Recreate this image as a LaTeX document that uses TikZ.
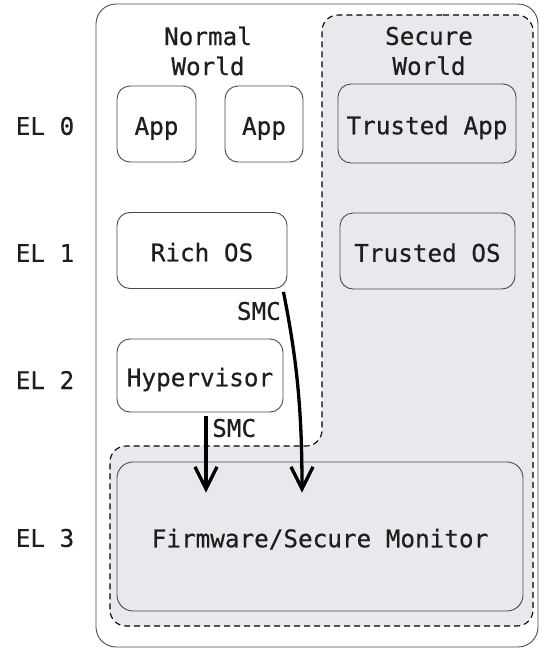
\documentclass[tikz,border=0pt]{standalone}
\usepackage{fontspec}
\setmainfont[FakeBold=0.5]{DejaVu Sans Mono}
\usetikzlibrary{arrows.meta}
\definecolor{secfill}{HTML}{E7E9EC}
\definecolor{edge}{HTML}{4A4A4A}
\definecolor{ink}{HTML}{1E1E1E}
\tikzset{
  unit/.style={x=1pt,y=-1pt},
  bigtext/.style={font=\fontsize{24.3}{30}\selectfont, text=ink},
  level/.style={bigtext},
  box/.style={draw=edge, line width=0.9pt, rounded corners=13pt, fill=white,
              bigtext, align=center, inner sep=0pt, text height=21.5pt, text depth=0pt},
  secbox/.style={box, fill=secfill},
  smc/.style={line width=3.3pt, -{Straight Barb[length=22pt,width=22pt,line width=3.3pt]}},
  worldlabel/.style={bigtext, align=center}
}
\begin{document}
\begin{tikzpicture}[unit]
\useasboundingbox (0,0) rectangle (540,649);
% outer frame
\draw[edge, line width=0.9pt, rounded corners=20pt, fill=white] (96,4) rectangle (538,647);
% secure world region (L-shaped, dashed)
\draw[black, line width=1.1pt, dash pattern=on 6pt off 4pt, fill=secfill, rounded corners=16pt]
  (427,15) -- (533,15) -- (533,626) -- (110,626) -- (110,446) -- (322,446) -- (322,15) -- cycle;
% world captions
\node[worldlabel] (nw) at (208,51) {Normal\\World};
\node[worldlabel] (sw) at (429,51) {Secure\\World};
% exception level captions
\node[level] (el0) at (45,126) {EL 0};
\node[level] (el1) at (45,253) {EL 1};
\node[level] (el2) at (45,380) {EL 2};
\node[level] (el3) at (45,538) {EL 3};
% normal world components
\node[box, minimum width=79pt, minimum height=76pt] (app1) at (156.5,124) {App};
\node[box, minimum width=78pt, minimum height=76pt] (app2) at (264,124) {App};
\node[box, minimum width=170pt, minimum height=76pt] (rich) at (202,250.5) {Rich OS};
\node[box, minimum width=166pt, minimum height=73pt] (hyp) at (200,375.5) {Hypervisor};
% secure world components
\node[secbox, minimum width=178pt, minimum height=79pt] (tapp) at (427,123.5) {Trusted App};
\node[secbox, minimum width=175pt, minimum height=76pt] (tos) at (427.5,251) {Trusted OS};
\node[secbox, minimum width=406pt, minimum height=149pt, rounded corners=16pt] (fw) at (320,536.5) {Firmware/Secure Monitor};
% secure monitor calls
\coordinate (hypout) at ([xshift=6pt,yshift=-4pt]hyp.south);
\coordinate (fwin1) at ([xshift=-114pt,yshift=-31pt]fw.north);
\coordinate (richout) at ([xshift=-4pt,yshift=-3pt]rich.south east);
\coordinate (fwin2) at ([xshift=-18pt,yshift=-31pt]fw.north);
\draw[smc] (hypout) -- (fwin1);
\draw[smc] (richout) .. controls (297,360) and (302,410) .. (fwin2);
\node[bigtext, anchor=west, inner sep=0pt] (smc1) at (212,428) {SMC};
\node[bigtext, anchor=east, inner sep=0pt] (smc2) at (281,311) {SMC};
\end{tikzpicture}
\end{document}
